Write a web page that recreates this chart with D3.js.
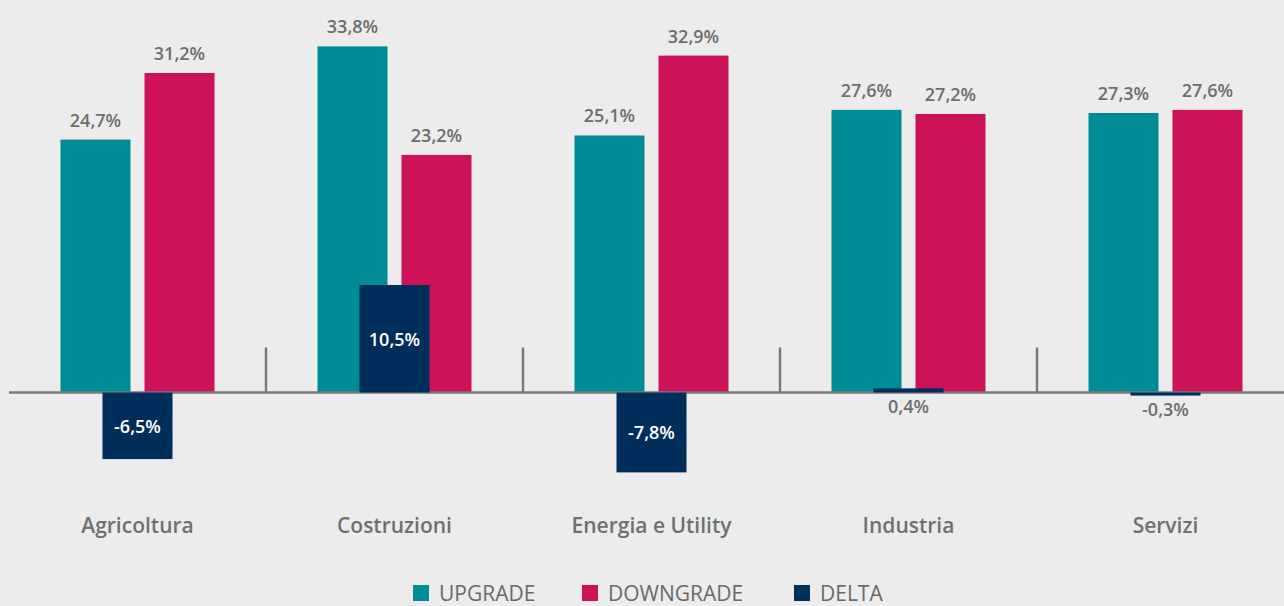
<!DOCTYPE html>
<html>
<head>
<meta charset="utf-8">
<script src="https://cdn.jsdelivr.net/npm/d3@7/dist/d3.min.js"></script>
<style>
  body { margin:0; background:#ebeceb; }
  svg { display:block; font-family:"Open Sans", sans-serif; }
</style>
</head>
<body>
<svg></svg>
<script>
// data
var categories = ["Agricoltura","Costruzioni","Energia e Utility","Industria","Servizi"]
var upgrade   = [24.7, 33.8, 25.1, 27.6, 27.3]
var downgrade = [31.2, 23.2, 32.9, 27.2, 27.6]
var delta     = [-6.5, 10.5, -7.8, 0.4, -0.3]
var seriesNames = ["UPGRADE","DOWNGRADE","DELTA"]
var colors = ["#008c96","#cc1259","#002e5a"]

var screen = {width:1284, height:606}
var baseY = 392.5

var fmt = function(v){ return v.toFixed(1).replace(".", ",") + "%" }

var svg = d3.select("svg")
  .attr("width", screen.width)
  .attr("height", screen.height)

svg.append("rect")
  .attr("width", screen.width)
  .attr("height", screen.height)
  .attr("fill", "#ebeceb")

var x0 = d3.scaleBand()
  .domain(categories)
  .range([9, 9 + 257*5])

var x1 = d3.scaleBand()
  .domain(["UPGRADE","DOWNGRADE"])
  .range([0, 154])
  .paddingInner(14/84)

var yScale = d3.scaleLinear()
  .domain([0, 35])
  .range([baseY, baseY - 35*10.24])

var rows = categories.map(function(c,i){
  return {cat:c, up:upgrade[i], down:downgrade[i], delta:delta[i]}
})

var off = x0.bandwidth()/2 - 77

// upgrade + downgrade bars
var pairs = [["UPGRADE","up",colors[0]],["DOWNGRADE","down",colors[1]]]
pairs.forEach(function(p){
  svg.append("g").selectAll("rect")
    .data(rows).enter().append("rect")
    .attr("x", function(d){ return x0(d.cat) + off + x1(p[0]) })
    .attr("width", x1.bandwidth())
    .attr("y", function(d){ return yScale(d[p[1]]) })
    .attr("height", function(d){ return baseY - yScale(d[p[1]]) })
    .attr("fill", p[2])

  svg.append("g").selectAll("text")
    .data(rows).enter().append("text")
    .attr("x", function(d){ return x0(d.cat) + off + x1(p[0]) + x1.bandwidth()/2 })
    .attr("y", function(d){ return yScale(d[p[1]]) - 13 })
    .attr("text-anchor","middle")
    .attr("font-size", 18)
    .attr("font-weight", 600)
    .attr("fill", "#6e6e6e")
    .text(function(d){ return fmt(d[p[1]]) })
})

// baseline and group separators
svg.append("line")
  .attr("x1", 9).attr("x2", screen.width)
  .attr("y1", baseY).attr("y2", baseY)
  .attr("stroke", "#7b7b7b").attr("stroke-width", 2.5)

svg.append("g").selectAll("line")
  .data(categories.slice(1)).enter().append("line")
  .attr("x1", function(c){ return x0(c) }).attr("x2", function(c){ return x0(c) })
  .attr("y1", baseY - 45).attr("y2", baseY)
  .attr("stroke", "#7b7b7b").attr("stroke-width", 2.5)

// delta bars
var dw = 70
svg.append("g").selectAll("rect")
  .data(rows).enter().append("rect")
  .attr("x", function(d){ return x0(d.cat) + x0.bandwidth()/2 - dw/2 })
  .attr("width", dw)
  .attr("y", function(d){ return d.delta >= 0 ? yScale(d.delta) : baseY })
  .attr("height", function(d){ return Math.abs(yScale(d.delta) - baseY) })
  .attr("fill", colors[2])

svg.append("g").selectAll("text")
  .data(rows).enter().append("text")
  .attr("x", function(d){ return x0(d.cat) + x0.bandwidth()/2 })
  .attr("y", function(d){
    var top = Math.min(yScale(d.delta), baseY), bot = Math.max(yScale(d.delta), baseY)
    if (Math.abs(d.delta) < 2) return bot + 20
    return (top + bot)/2 + 7
  })
  .attr("text-anchor","middle")
  .attr("font-size", 18)
  .attr("font-weight", 600)
  .attr("fill", function(d){ return Math.abs(d.delta) < 2 ? "#6e6e6e" : "#ffffff" })
  .text(function(d){ return fmt(d.delta) })

// category labels
svg.append("g").selectAll("text")
  .data(categories).enter().append("text")
  .attr("x", function(c){ return x0(c) + x0.bandwidth()/2 })
  .attr("y", 533)
  .attr("text-anchor","middle")
  .attr("font-size", 21)
  .attr("font-weight", 600)
  .attr("fill", "#707070")
  .text(function(c){ return c })

// legend
var legendX = [413, 582, 794]
var legend = svg.append("g").selectAll("g")
  .data(seriesNames).enter().append("g")
  .attr("transform", function(d,i){ return "translate(" + legendX[i] + ",585)" })

legend.append("rect")
  .attr("width", 16).attr("height", 16)
  .attr("fill", function(d,i){ return colors[i] })

legend.append("text")
  .attr("x", 26).attr("y", 16)
  .attr("font-size", 21)
  .attr("fill", "#6a6a6a")
  .text(function(d){ return d })
</script>
</body>
</html>
